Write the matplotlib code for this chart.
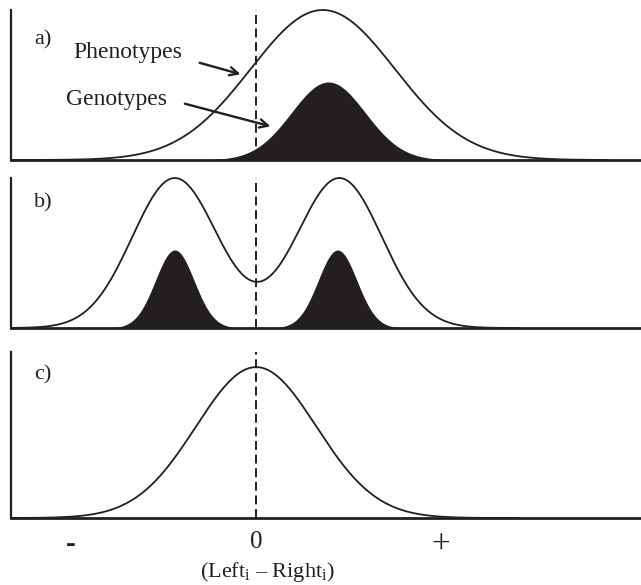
import numpy as np
import matplotlib
matplotlib.use('Agg')
import matplotlib.pyplot as plt

plt.rcParams['font.family'] = ['Liberation Serif', 'DejaVu Serif']
plt.rcParams['mathtext.fontset'] = 'custom'
plt.rcParams['mathtext.rm'] = 'Liberation Serif'

# distribution parameters (centre, spread, height) for each panel
pheno_a = (0.36, 0.39, 1.0)
geno_a = (0.39, 0.20, 0.52)
pheno_b_centres = [-0.44, 0.45]
pheno_b_spread = 0.23
geno_b_centres = [-0.44, 0.44]
geno_b_spread = 0.105
geno_b_height = 0.52
pheno_c = (0.0, 0.325, 1.0)

panel_labels = ['a)', 'b)', 'c)']
tick_pos = [-1, 0, 1]
tick_text = ['-', '0', '+']

INK = '#231f20'
W, H = 641, 585


def bell(x, mu, sd, h=1.0):
    return h * np.exp(-(x - mu) ** 2 / (2 * sd ** 2))


def px_axes(left, top, bottom):
    return [left / W, 1 - bottom / H, 1 - left / W, (bottom - top) / H]


fig = plt.figure(figsize=(W / 100, H / 100), dpi=100)
ax_a = fig.add_axes(px_axes(11, 10, 160))
ax_b = fig.add_axes(px_axes(11, 178, 328))
ax_c = fig.add_axes(px_axes(11, 352, 518))

xlim = (-1.325, 2.08)
x = np.linspace(xlim[0], 1.9, 800)
xc = np.linspace(xlim[0], 1.42, 800)

for ax in (ax_a, ax_b, ax_c):
    ax.set_xlim(*xlim)
    for s in ('top', 'right'):
        ax.spines[s].set_visible(False)
    ax.spines['left'].set_linewidth(1.6)
    ax.spines['bottom'].set_linewidth(2.0)
    ax.spines['left'].set_color(INK)
    ax.spines['bottom'].set_color(INK)
    ax.set_yticks([])
    ax.set_xticks([])
    ax.axvline(0, color=INK, lw=1.4, ls=(0, (4.6, 2.4)), zorder=1)

# a) shifted phenotype and genotype distributions
ax_a.set_ylim(0, 1.0)
ax_a.fill_between(x, 0, bell(x, *geno_a), color=INK, lw=0, zorder=2)
ax_a.plot(x, bell(x, *pheno_a), color=INK, lw=1.3, clip_on=False, zorder=3)
ax_a.annotate('', xy=(-0.07, 0.567), xytext=(-0.32, 0.653),
              arrowprops=dict(arrowstyle='->', color=INK, lw=1.7,
                              mutation_scale=15))
ax_a.annotate('', xy=(0.092, 0.22), xytext=(-0.40, 0.38),
              arrowprops=dict(arrowstyle='->', color=INK, lw=1.7,
                              mutation_scale=15))
ax_a.text(-0.99, 0.715, 'Phenotypes', fontsize=17, va='center', ha='left', color=INK)
ax_a.text(-1.03, 0.40, 'Genotypes', fontsize=17, va='center', ha='left', color=INK)

# b) two modes
ax_b.set_ylim(0, 1.0)
pb = sum(bell(xc, m, pheno_b_spread) for m in pheno_b_centres)
pb = pb / pb.max()
gb = sum(bell(xc, m, geno_b_spread, geno_b_height) for m in geno_b_centres)
ax_b.fill_between(xc, 0, gb, color=INK, lw=0, zorder=2)
ax_b.plot(xc, pb, color=INK, lw=1.3, clip_on=False, zorder=3)

# c) symmetric
ax_c.set_ylim(0, 1.1)
ax_c.plot(xc, bell(xc, *pheno_c), color=INK, lw=1.3, zorder=3)

ax_c.set_xticks(tick_pos)
ax_c.set_xticklabels(tick_text, fontsize=18)
ax_c.tick_params(axis='x', length=0, pad=9, colors=INK)
lbls = ax_c.get_xticklabels()
lbls[0].set_fontweight('bold')
lbls[0].set_fontsize(21)
lbls[2].set_fontsize(24)

fig.text(267 / W, 1 - 572 / H, r'(Left$_\mathregular{i}$ – Right$_\mathregular{i}$)',
         fontsize=16, ha='center', va='center', color=INK)

for lab, ypx in zip(panel_labels, [40, 203, 375]):
    fig.text(34 / W, 1 - ypx / H, lab, fontsize=16, ha='left', va='center', color=INK)

fig.savefig('out.png', dpi=100)
